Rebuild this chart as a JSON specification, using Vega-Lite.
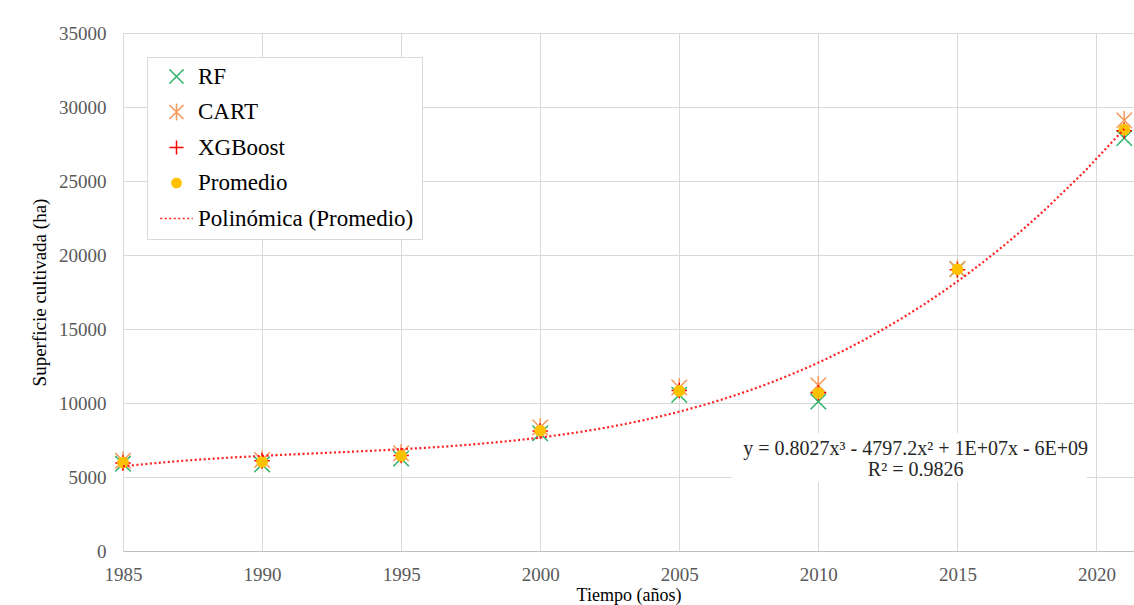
{
  "$schema": "https://vega.github.io/schema/vega-lite/v6.json",
  "width": 1011,
  "height": 518,
  "autosize": {"type": "none"},
  "padding": {"left": 123, "top": 33, "right": 0, "bottom": 54},
  "background": "white",
  "config": {
    "view": {"stroke": null},
    "font": "Liberation Serif",
    "text": {"font": "Liberation Serif"},
    "axis": {
      "labelFont": "Liberation Serif",
      "titleFont": "Liberation Serif",
      "labelColor": "#595959",
      "titleColor": "#000000",
      "titleFontWeight": "normal",
      "gridColor": "#d9d9d9",
      "gridWidth": 1,
      "ticks": false,
      "labelFlush": false
    },
    "legend": {
      "labelFont": "Liberation Serif",
      "labelFontSize": 23,
      "labelLimit": 400,
      "labelColor": "#000000"
    }
  },
  "data": {
    "values": [
      {"year": 1985, "series": "RF", "value": 5900},
      {"year": 1990, "series": "RF", "value": 5850},
      {"year": 1995, "series": "RF", "value": 6250},
      {"year": 2000, "series": "RF", "value": 7950},
      {"year": 2005, "series": "RF", "value": 10550},
      {"year": 2010, "series": "RF", "value": 10100},
      {"year": 2015, "series": "RF", "value": 19050},
      {"year": 2021, "series": "RF", "value": 27900},
      {"year": 1985, "series": "CART", "value": 6100},
      {"year": 1990, "series": "CART", "value": 6150},
      {"year": 1995, "series": "CART", "value": 6600},
      {"year": 2000, "series": "CART", "value": 8350},
      {"year": 2005, "series": "CART", "value": 11050},
      {"year": 2010, "series": "CART", "value": 11200},
      {"year": 2015, "series": "CART", "value": 19050},
      {"year": 2021, "series": "CART", "value": 29100},
      {"year": 1985, "series": "XGBoost", "value": 5950},
      {"year": 1990, "series": "XGBoost", "value": 6100},
      {"year": 1995, "series": "XGBoost", "value": 6450},
      {"year": 2000, "series": "XGBoost", "value": 8100},
      {"year": 2005, "series": "XGBoost", "value": 10850},
      {"year": 2010, "series": "XGBoost", "value": 10700},
      {"year": 2015, "series": "XGBoost", "value": 19000},
      {"year": 2021, "series": "XGBoost", "value": 28400},
      {"year": 1985, "series": "Promedio", "value": 5980},
      {"year": 1990, "series": "Promedio", "value": 6030},
      {"year": 1995, "series": "Promedio", "value": 6430},
      {"year": 2000, "series": "Promedio", "value": 8130},
      {"year": 2005, "series": "Promedio", "value": 10820},
      {"year": 2010, "series": "Promedio", "value": 10670},
      {"year": 2015, "series": "Promedio", "value": 19030},
      {"year": 2021, "series": "Promedio", "value": 28470}
    ]
  },
  "encoding": {
    "x": {
      "field": "year",
      "type": "quantitative",
      "scale": {"domain": [1985, 2021.35], "nice": false, "zero": false},
      "axis": {
        "values": [1985, 1990, 1995, 2000, 2005, 2010, 2015, 2020],
        "format": "d",
        "labelFont": "Liberation Serif",
        "labelFontSize": 19,
        "labelPadding": 14,
        "labelFlush": false,
        "domain": true,
        "domainColor": "#bfbfbf",
        "title": "Tiempo (años)",
        "titleFont": "Liberation Serif",
        "titleFontSize": 18,
        "titlePadding": 2
      }
    },
    "y": {
      "field": "value",
      "type": "quantitative",
      "scale": {"domain": [0, 35000], "nice": false},
      "axis": {
        "values": [0, 5000, 10000, 15000, 20000, 25000, 30000, 35000],
        "format": "d",
        "labelFont": "Liberation Serif",
        "labelFontSize": 19,
        "labelPadding": 17,
        "domain": false,
        "title": "Superficie cultivada (ha)",
        "titleFont": "Liberation Serif",
        "titleFontSize": 19,
        "titlePadding": 9
      }
    }
  },
  "layer": [
    {
      "transform": [{"filter": "datum.series === 'RF' && datum.year === 1985"}],
      "mark": {"type": "rect", "fill": "white"},
      "encoding": {
        "x": {"datum": 2006.9},
        "x2": {"datum": 2019.65},
        "y": {"datum": 7970},
        "y2": {"datum": 4660}
      }
    },
    {
      "transform": [{"filter": "datum.series === 'RF' && datum.year === 1985"}],
      "mark": {
        "type": "text",
        "text": ["y = 0.8027x³ - 4797.2x² + 1E+07x - 6E+09", "R² = 0.9826"],
        "font": "Liberation Serif",
        "fontSize": 20,
        "lineHeight": 21,
        "color": "#262626",
        "align": "center",
        "baseline": "middle"
      },
      "encoding": {
        "x": {"datum": 2013.5},
        "y": {"datum": 6900}
      }
    },
    {
      "mark": {"type": "point", "size": 240, "strokeWidth": 1.5, "opacity": 1},
      "encoding": {
        "shape": {
          "field": "series",
          "type": "nominal",
          "scale": {
            "domain": ["RF", "CART", "XGBoost", "Promedio", "Polinómica (Promedio)"],
            "range": [
              "M-1,-1L1,1M1,-1L-1,1",
              "M-1,-1L1,1M1,-1L-1,1M0,-1.2L0,1.2",
              "M0,-1L0,1M-1,0L1,0",
              "M-0.65,0A0.65,0.65 0 1,0 0.65,0A0.65,0.65 0 1,0 -0.65,0Z",
              "M-2.3,0L2.3,0"
            ]
          },
          "legend": {
            "title": null,
            "orient": "none",
            "legendX": 24,
            "legendY": 24,
            "fillColor": "white",
            "strokeColor": "#d9d9d9",
            "padding": 8,
            "labelFont": "Liberation Serif",
            "labelFontSize": 23,
            "labelLimit": 400,
            "labelColor": "#000000",
            "rowPadding": 11.5,
            "symbolStrokeWidth": 1.5,
            "symbolSize": 200,
            "labelOffset": 10,
            "symbolOffset": 10
          }
        },
        "stroke": {
          "field": "series",
          "type": "nominal",
          "scale": {
            "domain": ["RF", "CART", "XGBoost", "Promedio", "Polinómica (Promedio)"],
            "range": ["#2fb36b", "#f7995a", "#ff0000", "#ffc000", "#ff2020"]
          },
          "legend": {"title": null}
        },
        "fill": {
          "field": "series",
          "type": "nominal",
          "scale": {
            "domain": ["RF", "CART", "XGBoost", "Promedio", "Polinómica (Promedio)"],
            "range": ["transparent", "transparent", "transparent", "#ffc000", "transparent"]
          },
          "legend": {"title": null}
        },
        "strokeDash": {
          "field": "series",
          "type": "nominal",
          "scale": {
            "domain": ["RF", "CART", "XGBoost", "Promedio", "Polinómica (Promedio)"],
            "range": [[1, 0], [1, 0], [1, 0], [1, 0], [2, 2.5]]
          },
          "legend": {"title": null}
        }
      }
    },
    {
      "transform": [
        {"filter": "datum.series === 'Promedio'"},
        {"regression": "value", "on": "year", "method": "poly", "order": 3, "extent": [1985, 2021]}
      ],
      "mark": {"type": "line", "strokeWidth": 2.2},
      "encoding": {
        "stroke": {"datum": "Polinómica (Promedio)", "type": "nominal"},
        "strokeDash": {"datum": "Polinómica (Promedio)", "type": "nominal"}
      }
    }
  ]
}
